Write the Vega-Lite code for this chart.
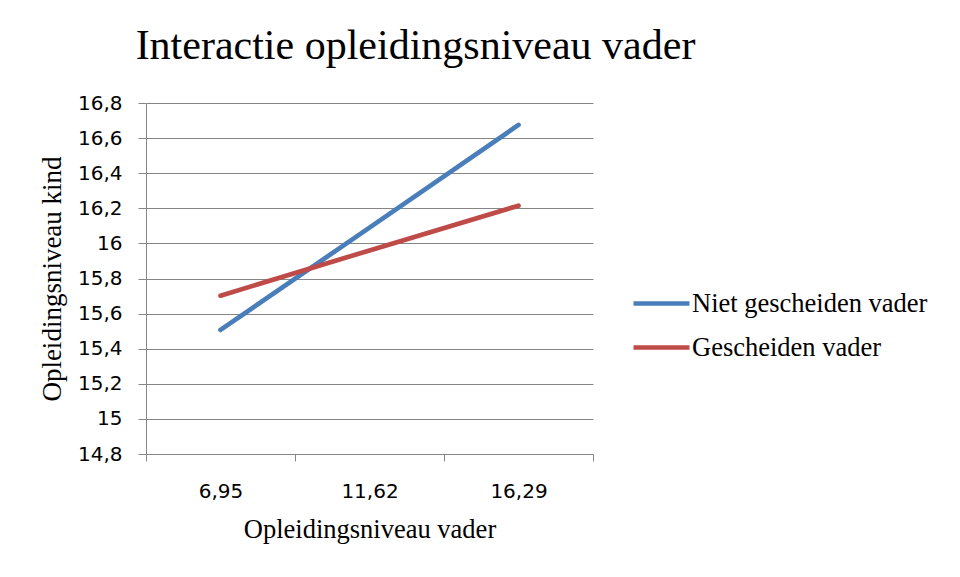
{
  "$schema": "https://vega.github.io/schema/vega-lite/v6.json",
  "width": 447,
  "height": 351,
  "autosize": {"type": "none"},
  "padding": {"left": 146, "top": 103, "right": 367, "bottom": 123},
  "background": "white",
  "title": {
    "text": "Interactie opleidingsniveau vader",
    "font": "Liberation Serif",
    "fontSize": 42,
    "fontWeight": "normal",
    "color": "black",
    "anchor": "middle",
    "dx": 46,
    "offset": 25
  },
  "data": {
    "values": [
      {"vader": 6.95, "kind": 15.507, "groep": "Niet gescheiden vader"},
      {"vader": 11.62, "kind": 16.09, "groep": "Niet gescheiden vader"},
      {"vader": 16.29, "kind": 16.675, "groep": "Niet gescheiden vader"},
      {"vader": 6.95, "kind": 15.702, "groep": "Gescheiden vader"},
      {"vader": 11.62, "kind": 15.96, "groep": "Gescheiden vader"},
      {"vader": 16.29, "kind": 16.215, "groep": "Gescheiden vader"}
    ]
  },
  "mark": {"type": "line", "strokeWidth": 4.7, "strokeCap": "round"},
  "encoding": {
    "x": {
      "field": "vader",
      "type": "quantitative",
      "scale": {"domain": [4.615, 18.625], "nice": false, "zero": false},
      "axis": {
        "title": "Opleidingsniveau vader",
        "titleFont": "Liberation Serif",
        "titleFontSize": 26.5,
        "titleFontWeight": "normal",
        "titleColor": "black",
        "titleBaseline": "middle",
        "titleY": 75,
        "values": [4.615, 9.285, 13.955, 18.625],
        "labelExpr": "datum.value > 18 ? '' : replace(format(datum.value + 2.335, '.2f'), '.', ',')",
        "labelOffset": 74.5,
        "labelFlush": false,
        "labelOverlap": false,
        "labelFont": "DejaVu Sans",
        "labelFontSize": 20,
        "labelColor": "black",
        "labelPadding": 20,
        "grid": false,
        "domainColor": "#868686",
        "tickColor": "#868686",
        "tickSize": 7,
        "domainWidth": 1,
        "tickWidth": 1
      }
    },
    "y": {
      "field": "kind",
      "type": "quantitative",
      "scale": {"domain": [14.8, 16.8], "nice": false, "zero": false},
      "axis": {
        "title": "Opleidingsniveau kind",
        "titleFont": "Liberation Serif",
        "titleFontSize": 27,
        "titleFontWeight": "normal",
        "titleColor": "black",
        "titleBaseline": "middle",
        "titleX": -94,
        "titleY": 175.5,
        "values": [14.8, 15, 15.2, 15.4, 15.6, 15.8, 16, 16.2, 16.4, 16.6, 16.8],
        "labelExpr": "replace(format(datum.value, '.3~g'), '.', ',')",
        "labelFont": "DejaVu Sans",
        "labelFontSize": 20,
        "labelColor": "black",
        "labelPadding": 16,
        "labelOverlap": false,
        "labelFlush": false,
        "grid": true,
        "gridColor": "#868686",
        "gridWidth": 1,
        "domainColor": "#868686",
        "tickColor": "#868686",
        "tickSize": 8
      }
    },
    "color": {
      "field": "groep",
      "type": "nominal",
      "scale": {
        "domain": ["Niet gescheiden vader", "Gescheiden vader"],
        "range": ["#4A7EBB", "#BE4B48"]
      },
      "legend": {
        "title": null,
        "orient": "none",
        "legendX": 485,
        "legendY": 170,
        "symbolType": "stroke",
        "symbolSize": 3136,
        "symbolStrokeWidth": 4.7,
        "labelFont": "Liberation Serif",
        "labelFontSize": 26.5,
        "labelColor": "black",
        "labelOffset": 0,
        "labelLimit": 400,
        "rowPadding": -14
      }
    }
  },
  "config": {"view": {"stroke": null}}
}
